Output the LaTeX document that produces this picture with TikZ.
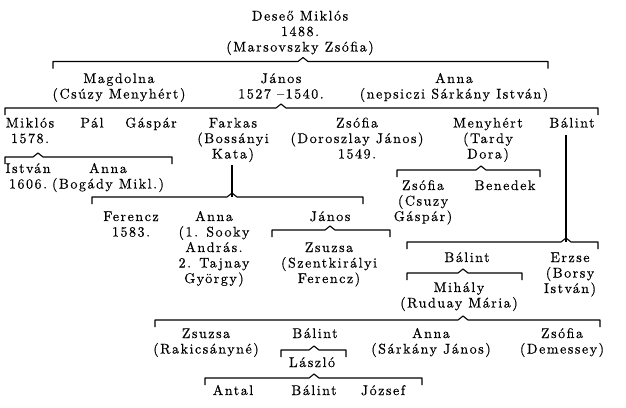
\documentclass[tikz,border=0pt]{standalone}
\usepackage{fontspec}
\newfontfamily\oldfont{lmroman10-regular}[Extension=.otf, LetterSpace=11, FakeBold=0.4]
\newcommand\famline[4]{% y, left x, join x, right x
  \draw[brline] ({#2},{#1+7}) -- ({#2},{#1}) -- ({#3-5},{#1}) -- ({#3},{#1-4}) -- ({#3+5},{#1}) -- ({#4},{#1}) -- ({#4},{#1+7});}
\begin{document}
\begin{tikzpicture}[x=1pt,y=-1pt,
  tx/.style={anchor=base, align=center, inner sep=0pt,
    font=\oldfont\fontsize{14}{15.5}\selectfont},
  l2/.style={yshift=-15.5pt},
  l3/.style={yshift=-31pt},
  l5/.style={yshift=-62pt},
  brline/.style={line width=1.1pt, line join=round}]
\useasboundingbox[fill=white] (0,0) rectangle (626,407);
% generation 0
\node[tx,l3] (desz) at (300,20.5) {Deseő Miklós\\1488.\\(Marsovszky Zsófia)};
\famline{61.5}{53}{303}{548}
% generation 1
\node[tx,l2] (magd) at (119,83) {Magdolna\\(Csúzy Menyhért)};
\node[tx,l2] (janos) at (281,83) {János\\1527 –1540.};
\node[tx,l2] (anna1) at (454,83) {Anna\\(nepsiczi Sárkány István)};
\famline{108}{5}{281}{598}
% generation 2
\node[tx,l2] (miklos) at (30,127.5) {Miklós\\1578.};
\node[tx] (pal) at (92,127.5) {Pál};
\node[tx] (gaspar) at (151,127.5) {Gáspár};
\node[tx,l3] (farkas) at (233,127.5) {Farkas\\(Bossányi\\Kata)};
\node[tx,l3] (zsofia1) at (357,127.5) {Zsófia\\(Doroszlay János)\\1549.};
\node[tx,l3] (menyhert) at (488,127.5) {Menyhért\\(Tardy\\Dora)};
\node[tx] (balint1) at (572,127.5) {Bálint};
% Miklós children
\famline{157}{5}{38}{172}
\node[tx,l2] (istvan) at (28,173) {István\\1606.};
\node[tx,l2] (anna2) at (108,173) {Anna\\(Bogády Mikl.)};
% Farkas children
\coordinate (fk) at (232,197);
\draw[brline] (232,165) -- (fk);
\famline{197}{92}{232}{363}
\node[tx,l2] (ferencz) at (131,221) {Ferencz\\1583.};
\node[tx,l5] (anna3) at (214,221) {Anna\\(1. Sooky\\András.\\2. Tajnay\\György)};
\node[tx] (janos2) at (330,221) {János};
\famline{230}{272}{330}{390}
\node[tx,l3] (zsuzsa1) at (329,252) {Zsuzsa\\(Szentkirályi\\Ferencz)};
% Menyhért children
\famline{170}{397}{481}{540}
\node[tx,l3] (zsofia2) at (423,190) {Zsófia\\(Csuzy\\Gáspár)};
\node[tx] (benedek) at (505,190) {Benedek};
% Bálint children
\coordinate (bk) at (566,242);
\draw[brline] (566,135) -- (bk);
\famline{242}{407}{566}{598}
\node[tx] (balint2) at (467,262) {Bálint};
\node[tx,l3] (erzse) at (570,262) {Erzse\\(Borsy\\István)};
\famline{273}{407}{463}{522}
\node[tx,l2] (mihaly) at (459,292) {Mihály\\(Ruduay Mária)};
% Mihály children
\famline{320}{155}{463}{600}
\node[tx,l2] (zsuzsa2) at (206,338) {Zsuzsa\\(Rakicsányné)};
\node[tx] (balint3) at (315,338) {Bálint};
\node[tx,l2] (anna4) at (431,338) {Anna\\(Sárkány János)};
\node[tx,l2] (zsofia3) at (562,338) {Zsófia\\(Demessey)};
\famline{350}{281}{314}{346}
\node[tx] (laszlo) at (312,367) {László};
\famline{378}{205}{314}{422}
\node[tx] (antal) at (233,395) {Antal};
\node[tx] (balint4) at (314,395) {Bálint};
\node[tx] (jozsef) at (383,395) {József};
\end{tikzpicture}
\end{document}
